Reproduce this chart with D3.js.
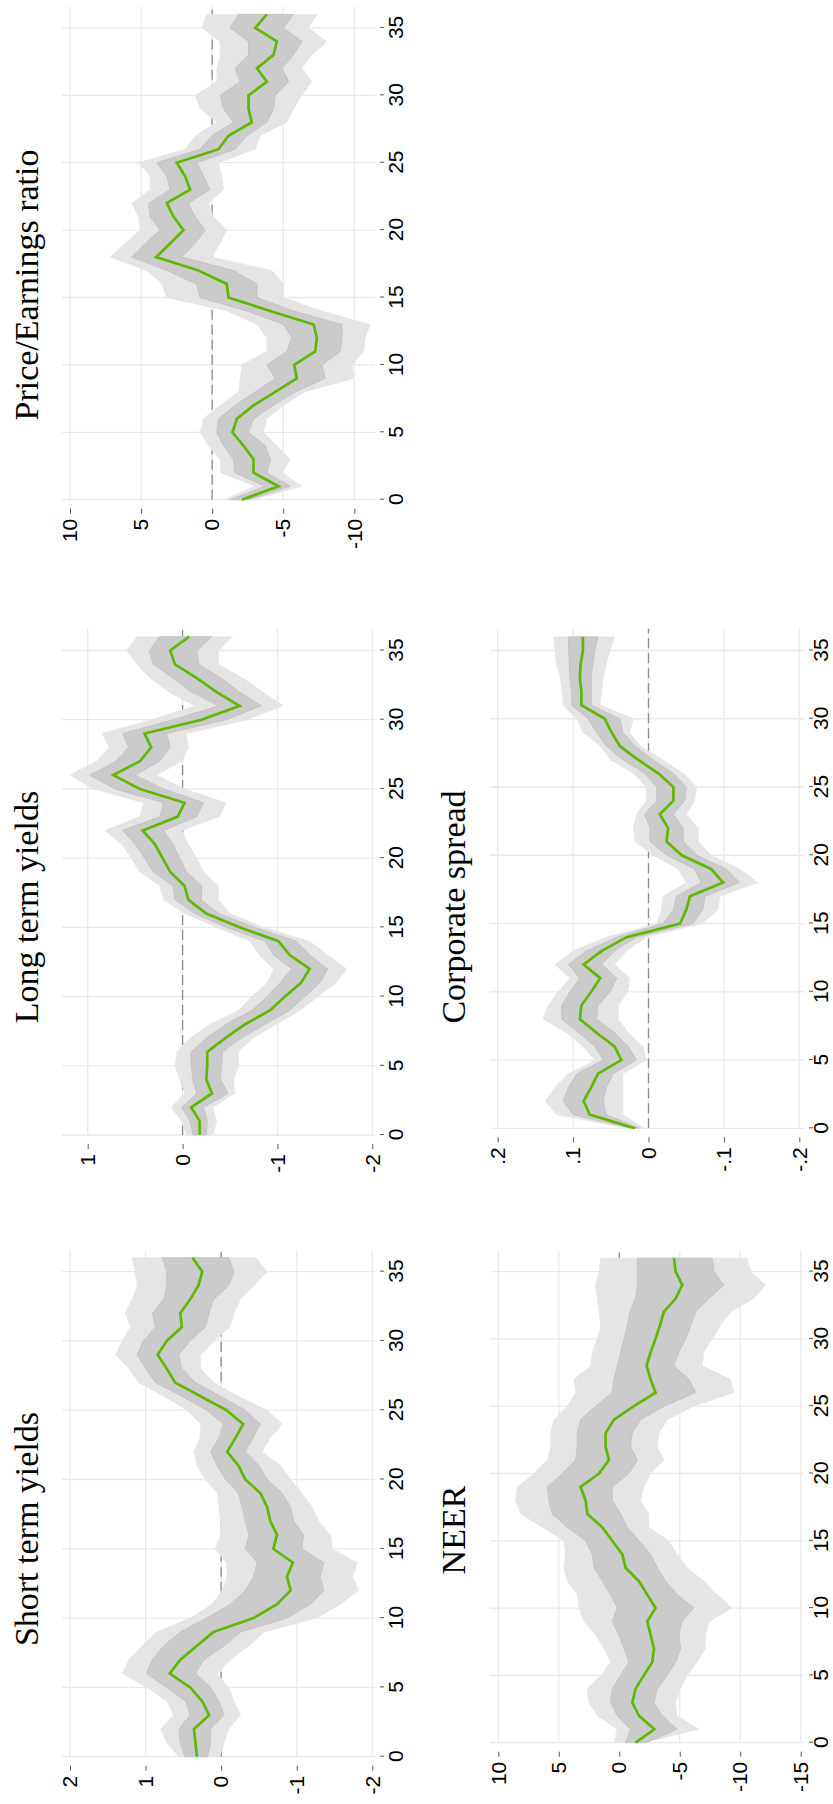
<!DOCTYPE html>
<html>
<head>
<meta charset="utf-8">
<script src="https://cdn.jsdelivr.net/npm/d3@7"></script>
<style>
  html, body { margin: 0; padding: 0; background: #ffffff; }
  svg { display: block; }
</style>
</head>
<body>
<div id="chart"></div>
<script>
// Impulse responses over horizons 0..36 with 68% and 90% bands
const horizons = d3.range(0, 37);
const horizonTicks = [0, 5, 10, 15, 20, 25, 30, 35];

// Short term yields
const shortIrf  = [0.32,0.34,0.36,0.16,0.25,0.41,0.68,0.54,0.32,0.10,-0.43,-0.74,-0.92,-0.87,-0.95,-0.69,-0.74,-0.65,-0.61,-0.52,-0.32,-0.23,-0.08,-0.19,-0.29,-0.07,0.27,0.61,0.72,0.84,0.72,0.52,0.54,0.41,0.30,0.25,0.38];
const shortHi68 = [0.48,0.54,0.56,0.41,0.47,0.72,0.99,0.91,0.76,0.54,0.19,-0.12,-0.32,-0.43,-0.48,-0.32,-0.37,-0.32,-0.28,-0.23,-0.06,0.05,0.14,0.03,-0.03,0.19,0.52,0.87,1.00,1.11,1.03,0.87,0.91,0.76,0.72,0.72,0.78];
const shortLo68 = [0.18,0.14,0.14,-0.04,0.03,0.14,0.34,0.23,-0.04,-0.26,-0.87,-1.18,-1.36,-1.31,-1.36,-1.07,-1.09,-0.96,-0.92,-0.81,-0.61,-0.50,-0.32,-0.42,-0.52,-0.32,0.01,0.34,0.52,0.56,0.41,0.21,0.16,0.10,-0.10,-0.17,-0.10];
const shortHi90 = [0.56,0.72,0.80,0.63,0.72,0.98,1.31,1.22,1.05,0.85,0.41,0.12,-0.01,-0.08,-0.07,0.08,0.01,0.01,0.03,0.05,0.21,0.32,0.36,0.28,0.27,0.45,0.76,1.09,1.22,1.40,1.31,1.20,1.27,1.18,1.11,1.14,1.18];
const shortLo90 = [0.02,-0.04,-0.10,-0.26,-0.17,-0.10,0.05,-0.12,-0.37,-0.57,-1.27,-1.58,-1.82,-1.74,-1.80,-1.47,-1.45,-1.29,-1.21,-1.07,-0.92,-0.79,-0.54,-0.65,-0.81,-0.61,-0.23,0.10,0.27,0.27,0.10,-0.12,-0.17,-0.26,-0.43,-0.61,-0.46];
const shortTicks = [2, 1, 0, -1, -2];
const shortTickLabels = ["2", "1", "0", "-1", "-2"];

// Long term yields
const longIrf  = [-0.18,-0.18,-0.09,-0.31,-0.25,-0.26,-0.26,-0.45,-0.66,-0.92,-1.08,-1.25,-1.34,-1.13,-1.01,-0.60,-0.25,-0.06,-0.02,0.13,0.21,0.29,0.42,0.05,-0.02,0.45,0.73,0.45,0.33,0.40,-0.20,-0.60,-0.36,-0.15,0.08,0.13,-0.07];
const longHi68 = [-0.11,-0.08,0.01,-0.15,-0.11,-0.09,-0.09,-0.25,-0.46,-0.73,-0.89,-1.03,-1.15,-0.96,-0.87,-0.46,-0.13,0.08,0.10,0.31,0.40,0.50,0.63,0.24,0.20,0.71,0.98,0.70,0.57,0.63,0.10,-0.38,-0.09,0.10,0.31,0.35,0.24];
const longLo68 = [-0.25,-0.26,-0.22,-0.48,-0.40,-0.41,-0.42,-0.62,-0.87,-1.13,-1.29,-1.45,-1.53,-1.34,-1.20,-0.76,-0.38,-0.20,-0.20,-0.04,0.03,0.10,0.20,-0.15,-0.22,0.20,0.50,0.24,0.13,0.17,-0.46,-0.83,-0.60,-0.41,-0.17,-0.15,-0.31];
const longHi90 = [-0.04,0.01,0.12,-0.02,0.03,0.08,0.06,-0.08,-0.29,-0.59,-0.73,-0.89,-0.96,-0.81,-0.71,-0.36,-0.02,0.20,0.24,0.45,0.54,0.64,0.82,0.45,0.41,0.94,1.19,0.91,0.77,0.85,0.33,-0.13,0.15,0.34,0.48,0.59,0.48];
const longLo90 = [-0.32,-0.36,-0.32,-0.55,-0.54,-0.59,-0.59,-0.74,-0.99,-1.24,-1.43,-1.62,-1.73,-1.53,-1.34,-0.85,-0.50,-0.38,-0.38,-0.22,-0.15,-0.06,0.01,-0.39,-0.46,-0.02,0.27,0.01,-0.06,-0.04,-0.69,-1.06,-0.85,-0.64,-0.38,-0.38,-0.53];
const longTicks = [1, 0, -1, -2];
const longTickLabels = ["1", "0", "-1", "-2"];

// Price/Earnings ratio
const peIrf  = [-2.09,-4.67,-2.91,-2.91,-2.21,-1.43,-1.74,-2.91,-4.44,-5.96,-5.77,-7.25,-7.37,-7.14,-4.08,-1.15,-1.03,0.96,3.94,2.96,2.02,2.72,3.19,1.55,1.90,2.49,-0.45,-1.15,-2.79,-2.56,-2.56,-3.85,-3.15,-4.32,-4.55,-3.03,-3.85];
const peHi68 = [-1.27,-3.70,-1.60,-1.50,-0.80,-0.33,-0.45,-1.62,-3.03,-4.44,-3.85,-5.26,-5.61,-5.02,-2.44,0.85,1.08,3.19,5.66,4.72,3.66,4.37,4.48,2.96,3.19,3.90,0.85,0.02,-1.50,-0.80,-0.56,-1.97,-1.62,-2.56,-2.56,-1.27,-1.85];
const peLo68 = [-2.56,-5.49,-3.85,-4.10,-3.73,-2.56,-2.91,-4.32,-5.85,-7.96,-7.72,-9.01,-9.13,-9.13,-5.73,-3.15,-3.15,-1.50,2.14,1.20,0.49,1.20,1.67,0.14,0.61,1.08,-1.62,-2.44,-3.85,-4.32,-4.44,-5.38,-4.91,-5.73,-6.31,-5.02,-5.73];
const peHi90 = [-0.80,-3.00,-0.60,-0.56,0.26,0.85,0.61,-0.56,-1.85,-1.97,-2.09,-3.85,-3.85,-3.15,-1.03,3.19,3.54,4.60,7.18,6.13,5.07,5.19,5.66,4.37,4.37,5.19,1.90,1.20,-0.33,0.85,1.20,-0.33,-0.33,-0.56,-0.56,0.73,0.38];
const peLo90 = [-2.91,-6.31,-4.95,-5.49,-4.55,-3.61,-3.85,-5.02,-6.55,-9.95,-9.84,-10.66,-10.77,-11.13,-7.72,-5.02,-5.02,-4.20,0.02,-0.56,-1.03,-0.09,0.26,-0.80,-0.68,-0.45,-3.03,-3.38,-5.26,-5.73,-6.31,-7.02,-6.31,-7.02,-8.08,-6.78,-7.37];
const peTicks = [10, 5, 0, -5, -10];
const peTickLabels = ["10", "5", "0", "-5", "-10"];

// NEER
const neerIrf  = [-1.35,-2.90,-1.63,-1.07,-1.35,-2.04,-2.73,-2.87,-2.59,-2.31,-3.00,-2.31,-1.63,-0.52,-0.25,0.58,1.40,2.64,2.78,3.20,1.68,0.85,1.13,1.13,0.44,-1.21,-3.00,-2.59,-2.26,-2.59,-3.00,-3.36,-3.69,-4.66,-5.21,-4.66,-4.52];
const neerHi68 = [-0.52,-0.94,0.17,0.72,0.58,-0.11,-0.80,-0.39,0.03,0.58,0.17,0.72,1.40,2.09,2.23,2.78,4.30,5.54,5.81,5.95,4.71,3.61,3.47,3.47,3.20,1.96,0.58,0.44,0.17,-0.11,-0.39,-0.66,-0.88,-1.35,-1.49,-1.49,-1.49];
const neerLo68 = [-2.18,-4.79,-3.55,-2.87,-3.14,-3.97,-4.66,-5.07,-4.93,-5.21,-6.17,-4.79,-3.83,-3.14,-2.59,-1.63,-0.66,-0.11,0.58,0.58,-0.80,-1.49,-0.94,-1.07,-1.76,-3.69,-6.31,-5.76,-4.52,-4.93,-5.48,-5.90,-6.31,-7.41,-8.65,-7.82,-7.69];
const neerHi90 = [0.44,0.17,1.82,2.51,2.64,1.54,0.72,1.27,1.96,2.92,3.33,3.47,4.30,4.57,4.44,4.57,6.36,8.15,8.57,8.43,7.05,5.95,5.67,5.67,5.40,4.30,3.61,3.75,2.37,2.23,1.82,1.54,1.68,1.82,1.96,1.68,1.54];
const neerLo90 = [-2.04,-6.58,-4.79,-4.66,-5.07,-5.62,-6.45,-7.13,-7.13,-7.41,-9.34,-8.10,-7.00,-5.62,-4.79,-4.10,-2.45,-2.45,-1.76,-2.04,-2.59,-3.69,-3.14,-3.28,-3.97,-6.17,-9.48,-9.20,-6.86,-7.00,-7.69,-8.37,-9.20,-11.13,-12.09,-10.85,-10.58];
const neerTicks = [10, 5, 0, -5, -10, -15];
const neerTickLabels = ["10", "5", "0", "-5", "-10", "-15"];

// Corporate spread
const corpIrf  = [0.018,0.078,0.086,0.076,0.067,0.036,0.045,0.069,0.091,0.089,0.076,0.064,0.086,0.062,0.029,-0.042,-0.050,-0.055,-0.099,-0.083,-0.044,-0.024,-0.026,-0.015,-0.033,-0.033,-0.013,0.014,0.038,0.049,0.058,0.089,0.089,0.091,0.090,0.087,0.087];
const corpHi68 = [0.024,0.100,0.113,0.106,0.095,0.060,0.071,0.093,0.115,0.115,0.104,0.091,0.106,0.082,0.042,-0.019,-0.033,-0.037,-0.070,-0.061,-0.024,-0.002,-0.002,0.005,-0.011,-0.011,0.005,0.034,0.056,0.069,0.080,0.102,0.102,0.104,0.105,0.106,0.106];
const corpLo68 = [0.012,0.056,0.060,0.056,0.047,0.016,0.027,0.045,0.069,0.067,0.051,0.042,0.062,0.045,0.016,-0.059,-0.072,-0.075,-0.121,-0.103,-0.064,-0.046,-0.046,-0.033,-0.048,-0.050,-0.033,-0.006,0.018,0.034,0.038,0.076,0.076,0.076,0.074,0.071,0.067];
const corpHi90 = [0.028,0.122,0.137,0.124,0.106,0.071,0.087,0.109,0.140,0.133,0.120,0.104,0.124,0.100,0.056,-0.011,-0.017,-0.019,-0.050,-0.039,-0.006,0.018,0.020,0.016,0.003,0.003,0.020,0.051,0.064,0.087,0.095,0.113,0.115,0.117,0.122,0.124,0.126];
const corpLo90 = [0.006,0.034,0.034,0.034,0.034,0.003,0.007,0.027,0.040,0.040,0.027,0.025,0.045,0.029,0.003,-0.072,-0.092,-0.095,-0.145,-0.121,-0.083,-0.066,-0.066,-0.050,-0.061,-0.064,-0.046,-0.019,0.011,0.025,0.020,0.064,0.062,0.060,0.056,0.051,0.045];
const corpTicks = [0.2, 0.1, 0, -0.1, -0.2];
const corpTickLabels = [".2", ".1", "0", "-.1", "-.2"];

// The graph is laid out landscape (1804 x 833) and turned a quarter turn onto the page.
const pageW = 833, pageH = 1804;

// Panel frames in landscape coordinates:
// x0/x35: positions of horizon 0 and 35; xEnd: right edge of plot region;
// yTop/yBot: plot region; vA/vB: two value ticks and their positions;
// labelPad: gap between horizon ticks and their labels.
const panels = [
  { title: "Short term yields", irf: shortIrf, hi68: shortHi68, lo68: shortLo68, hi90: shortHi90, lo90: shortLo90,
    ticks: shortTicks, tickLabels: shortTickLabels,
    x0: 47.3, x35: 532.4, xEnd: 553, yTop: 62, yBot: 375, vA: [2, 70], vB: [-2, 372.3], labelPad: 4, titleX: 275, titleY: 38 },
  { title: "Long term yields", irf: longIrf, hi68: longHi68, lo68: longLo68, hi90: longHi90, lo90: longLo90,
    ticks: longTicks, tickLabels: longTickLabels,
    x0: 669, x35: 1153.5, xEnd: 1175.3, yTop: 62, yBot: 375, vA: [1, 87.7], vB: [-2, 372.3], labelPad: 4, titleX: 897, titleY: 38 },
  { title: "Price/Earnings ratio", irf: peIrf, hi68: peHi68, lo68: peLo68, hi90: peHi90, lo90: peLo90,
    ticks: peTicks, tickLabels: peTickLabels,
    x0: 1304.3, x35: 1776.1, xEnd: 1797.6, yTop: 62, yBot: 375, vA: [10, 70], vB: [-10, 354.3], labelPad: 4, titleX: 1519, titleY: 38 },
  { title: "NEER", irf: neerIrf, hi68: neerHi68, lo68: neerLo68, hi90: neerHi90, lo90: neerLo90,
    ticks: neerTicks, tickLabels: neerTickLabels,
    x0: 61.3, x35: 532.4, xEnd: 553, yTop: 490, yBot: 804, vA: [10, 498.3], vB: [-15, 800.7], labelPad: 0, titleX: 274, titleY: 465 },
  { title: "Corporate spread", irf: corpIrf, hi68: corpHi68, lo68: corpLo68, hi90: corpHi90, lo90: corpLo90,
    ticks: corpTicks, tickLabels: corpTickLabels,
    x0: 675.7, x35: 1153.5, xEnd: 1175.3, yTop: 490, yBot: 804, vA: [0.2, 497.7], vB: [-0.2, 799.3], labelPad: 0, titleX: 897, titleY: 465 }
];

const svg = d3.select("#chart").append("svg")
  .attr("width", pageW)
  .attr("height", pageH);

svg.append("rect").attr("width", pageW).attr("height", pageH).attr("fill", "#ffffff");

const root = svg.append("g")
  .attr("transform", `translate(0,${pageH}) rotate(-90)`);

const gridColor = "#e9e9e9";
const outerFill = "#e5e5e5";
const innerFill = "#cbcbcb";
const lineColor = "#5fb800";
const tickFont = "'Liberation Sans', Arial, Helvetica, sans-serif";
const titleFont = "'Liberation Serif', 'Times New Roman', serif";

panels.forEach(p => {
  const g = root.append("g");

  const x = d3.scaleLinear().domain([0, 35]).range([p.x0, p.x35]);
  const y = d3.scaleLinear().domain([p.vA[0], p.vB[0]]).range([p.vA[1], p.vB[1]]);

  // grid
  g.append("g").selectAll("line").data(horizonTicks).join("line")
    .attr("x1", d => x(d)).attr("x2", d => x(d))
    .attr("y1", p.yTop).attr("y2", p.yBot)
    .attr("stroke", gridColor).attr("stroke-width", 1.3);
  g.append("g").selectAll("line").data(p.ticks).join("line")
    .attr("x1", p.x0).attr("x2", p.xEnd)
    .attr("y1", d => y(d)).attr("y2", d => y(d))
    .attr("stroke", gridColor).attr("stroke-width", 1.3);

  // zero reference line
  g.append("line")
    .attr("x1", p.x0).attr("x2", p.xEnd)
    .attr("y1", y(0)).attr("y2", y(0))
    .attr("stroke", "#8a8a8a").attr("stroke-width", 1.3)
    .attr("stroke-dasharray", "10,5");

  // bands
  const band = (lo, hi) => d3.area()
    .x((d, i) => x(horizons[i]))
    .y0((d, i) => y(lo[i]))
    .y1((d, i) => y(hi[i]));

  g.append("path").datum(horizons)
    .attr("d", band(p.lo90, p.hi90))
    .attr("fill", outerFill).attr("stroke", outerFill).attr("stroke-width", 0.6);
  g.append("path").datum(horizons)
    .attr("d", band(p.lo68, p.hi68))
    .attr("fill", innerFill).attr("stroke", "#bfbfbf").attr("stroke-width", 0.8);

  // point estimate
  g.append("path").datum(horizons)
    .attr("d", d3.line().x((d, i) => x(horizons[i])).y((d, i) => y(p.irf[i])))
    .attr("fill", "none").attr("stroke", lineColor)
    .attr("stroke-width", 2.7).attr("stroke-linejoin", "miter");

  // value axis
  const yAxis = d3.axisLeft(y)
    .tickValues(p.ticks)
    .tickFormat((d, i) => p.tickLabels[i])
    .tickSize(5).tickPadding(5);
  const ya = g.append("g")
    .attr("transform", `translate(${p.x0 - 9},0)`)
    .call(yAxis);
  ya.select(".domain").remove();
  ya.selectAll("line").attr("stroke", "#555555").attr("stroke-width", 1);
  ya.selectAll("text")
    .attr("fill", "#000000")
    .style("font-family", tickFont).style("font-size", "21px");

  // horizon axis
  const xAxis = d3.axisBottom(x)
    .tickValues(horizonTicks)
    .tickFormat(d3.format("d"))
    .tickSize(4).tickPadding(p.labelPad);
  const xa = g.append("g")
    .attr("transform", `translate(0,${p.yBot + 5})`)
    .call(xAxis);
  xa.select(".domain").remove();
  xa.selectAll("line").attr("stroke", "#555555").attr("stroke-width", 1);
  xa.selectAll("text")
    .attr("fill", "#000000")
    .style("font-family", tickFont).style("font-size", "21px");

  // title
  g.append("text")
    .attr("x", p.titleX).attr("y", p.titleY)
    .attr("text-anchor", "middle")
    .style("font-family", titleFont).style("font-size", "34px")
    .attr("fill", "#000000")
    .text(p.title);
});
</script>
</body>
</html>
